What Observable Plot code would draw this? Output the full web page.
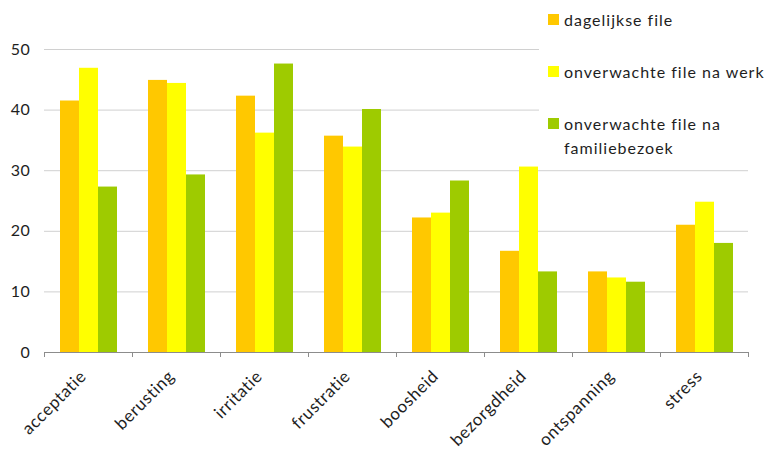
<!DOCTYPE html>
<html>
<head>
<meta charset="utf-8">
<script src="https://cdn.jsdelivr.net/npm/d3@7"></script>
<script src="https://cdn.jsdelivr.net/npm/@observablehq/plot@0.6"></script>
<style>
  html, body { margin: 0; padding: 0; background: #fff; }
  #wrap { position: relative; width: 767px; height: 453px; font-family: Lato, "Open Sans", sans-serif; color: #1e1e1e; }
  #wrap svg { display: block; }
  #legend { position: absolute; left: 539px; top: 0; width: 228px; height: 166px; background: #fff; }
  .item { position: absolute; left: 9px; font-size: 16px; letter-spacing: 1px; line-height: 24px; }
  .sw { position: absolute; left: 0; top: 6px; width: 11px; height: 11px; }
  .lbl { position: absolute; left: 16px; white-space: nowrap; }
</style>
</head>
<body>
<div id="wrap"><div id="chart"></div><div id="legend"></div></div>
<script>
const categories = ["acceptatie", "berusting", "irritatie", "frustratie", "boosheid", "bezorgdheid", "ontspanning", "stress"];
const seriesNames = ["dagelijkse file", "onverwachte file na werk", "onverwachte file na familiebezoek"];
const legendLines = [["dagelijkse file"], ["onverwachte file na werk"], ["onverwachte file na", "familiebezoek"]];
const dagelijkseFile = [41.5, 44.9, 42.3, 35.7, 22.2, 16.7, 13.3, 21.0];
const naWerk = [46.9, 44.4, 36.2, 33.9, 23.0, 30.6, 12.3, 24.8];
const naFamiliebezoek = [27.3, 29.3, 47.6, 40.1, 28.3, 13.3, 11.6, 18.0];
const yTicks = [0, 10, 20, 30, 40, 50];
const colors = ["#ffc800", "#ffff00", "#9ecb00"];

const seriesValues = [dagelijkseFile, naWerk, naFamiliebezoek];
const data = [];
categories.forEach((c, i) => seriesNames.forEach((s, j) => data.push({category: c, series: s, value: seriesValues[j][i]})));

const chart = Plot.plot({
  width: 767,
  height: 453,
  marginLeft: 44,
  marginRight: 19,
  marginTop: 49,
  marginBottom: 101,
  style: {fontFamily: "Lato, 'Open Sans', sans-serif", fontSize: "16px", color: "#1e1e1e", letterSpacing: "0.6px", background: "transparent"},
  fx: {domain: categories, padding: 0, label: null},
  x: {domain: seriesNames, paddingInner: 0, paddingOuter: 0.737, axis: null},
  y: {domain: [0, 50], label: null},
  color: {domain: seriesNames, range: colors},
  marks: [
    Plot.gridY(yTicks, {stroke: "#d0d0d0", strokeOpacity: 1}),
    Plot.barY(data, {fx: "category", x: "series", y: "value", fill: "series"}),
    Plot.ruleY([0], {stroke: "#8c8c8c"}),
    Plot.axisY(yTicks, {tickSize: 0, tickPadding: 14, label: null, fontSize: 16, fill: "#1e1e1e"}),
    Plot.axisFx({anchor: "bottom", tickSize: 0, tickPadding: 21, tickRotate: -45, label: null, fontSize: 17, fill: "#1e1e1e", dx: -5, style: {letterSpacing: "0.9px"}}),
    Plot.axisFx({anchor: "bottom", tickSize: 5, text: null, label: null, dx: 44, stroke: "#8c8c8c", strokeOpacity: 1}),
    Plot.axisFx({anchor: "bottom", tickSize: 5, text: null, label: null, dx: -44, stroke: "#8c8c8c", strokeOpacity: 1})
  ]
});
document.getElementById("chart").appendChild(chart);

const legend = document.getElementById("legend");
const tops = [8, 60, 112];
legendLines.forEach((lines, i) => {
  const item = document.createElement("div");
  item.className = "item";
  item.style.top = tops[i] + "px";
  const sw = document.createElement("div");
  sw.className = "sw";
  sw.style.background = colors[i];
  item.appendChild(sw);
  lines.forEach((t, k) => {
    const l = document.createElement("div");
    l.className = "lbl";
    l.style.top = (k * 24) + "px";
    l.textContent = t;
    item.appendChild(l);
  });
  legend.appendChild(item);
});
</script>
</body>
</html>
